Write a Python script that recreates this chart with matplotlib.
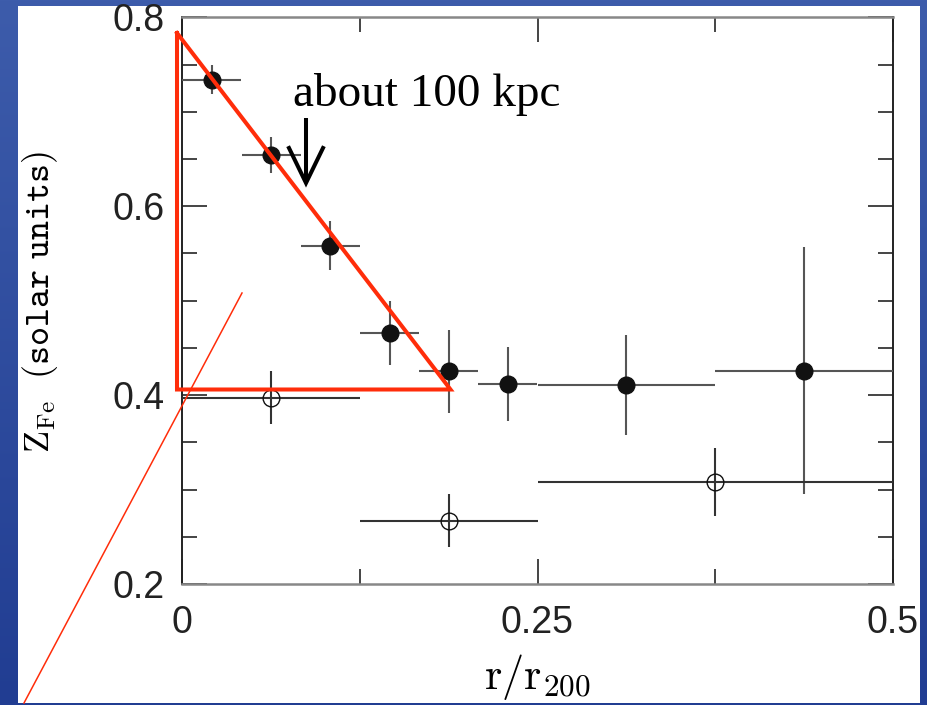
import numpy as np
import matplotlib
matplotlib.use("Agg")
import matplotlib.pyplot as plt
from matplotlib.colors import LinearSegmentedColormap
from matplotlib.patches import Rectangle
from matplotlib.ticker import FixedLocator, MultipleLocator

# ------------------------------------------------------------------ data ----
filled_x = [0.0208, 0.0625, 0.104, 0.146, 0.1875, 0.229, 0.3125, 0.4375]
filled_y = [0.734, 0.654, 0.558, 0.466, 0.425, 0.412, 0.411, 0.426]
filled_xerr = [0.0208, 0.0208, 0.0208, 0.0208, 0.0208, 0.0208, 0.0625, 0.0625]
filled_yerr = [0.015, 0.019, 0.026, 0.034, 0.044, 0.039, 0.053, 0.131]

open_x = [0.0625, 0.1875, 0.375]
open_y = [0.397, 0.267, 0.308]
open_xerr = [0.0625, 0.0625, 0.125]
open_yerr = [0.028, 0.028, 0.036]

x_ticks = [0, 0.25, 0.5]
x_ticklabels = ["0", "0.25", "0.5"]
x_minor = [0.125, 0.375]
y_ticks = [0.2, 0.4, 0.6, 0.8]
y_ticklabels = ["0.2", "0.4", "0.6", "0.8"]

note = "about 100 kpc"

# ---------------------------------------------------------------- style -----
W, H = 928, 705
INK = "#111111"
BAR = "#555555"
RED = "#ff2d0a"
plt.rcParams["mathtext.fontset"] = "cm"

fig = plt.figure(figsize=(W / 100, H / 100), dpi=100)

# slide background: blue gradient with a white card
bg = fig.add_axes([0, 0, 1, 1])
bg.axis("off")
cmap = LinearSegmentedColormap.from_list("slide", ["#3d5cab", "#213d92"])
bg.imshow(np.linspace(0, 1, 256)[:, None], cmap=cmap, aspect="auto", extent=[0, W, H, 0])
bg.add_patch(Rectangle((18, 6), 902, 697, facecolor="white", edgecolor="none"))
bg.set_xlim(0, W)
bg.set_ylim(H, 0)

# ----------------------------------------------------------------- plot -----
ax = fig.add_axes([182.3 / W, 1 - 584 / H, (892.7 - 182.3) / W, (584 - 17.3) / H])
ax.set_zorder(2)
ax.patch.set_alpha(0)
ax.set_xlim(0, 0.5)
ax.set_ylim(0.2, 0.8)

ax.errorbar(filled_x, filled_y, xerr=filled_xerr, yerr=filled_yerr, fmt="o", ms=12,
            color=INK, ecolor=BAR, elinewidth=1.5, capsize=0, zorder=3)
ax.errorbar(open_x, open_y, xerr=open_xerr, yerr=open_yerr, fmt="o", ms=12, mfc="none",
            mec=INK, mew=1.0, ecolor="#333333", elinewidth=1.5, capsize=0, zorder=3)

ax.xaxis.set_major_locator(FixedLocator(x_ticks))
ax.set_xticklabels(x_ticklabels)
ax.xaxis.set_minor_locator(FixedLocator(x_minor))
ax.yaxis.set_major_locator(FixedLocator(y_ticks))
ax.set_yticklabels(y_ticklabels)
ax.yaxis.set_minor_locator(MultipleLocator(0.05))

ax.tick_params(which="both", direction="in", top=True, right=True, color="#444444", width=1.4)
ax.tick_params(which="major", length=18, labelsize=27, labelcolor="#222222")
ax.tick_params(which="minor", length=11)
ax.tick_params(axis="x", pad=15)
ax.tick_params(axis="y", pad=13)
for lab in ax.get_xticklabels() + ax.get_yticklabels():
    lab.set_family("Liberation Sans")

for side in ("left", "right"):
    ax.spines[side].set_color("#222222")
    ax.spines[side].set_linewidth(1.4)
for side in ("top", "bottom"):
    ax.spines[side].set_color("#888888")
    ax.spines[side].set_linewidth(1.8)

ax.set_xlabel(r"$\mathrm{r/r_{200}}$", fontsize=32, va="baseline")
ax.xaxis.set_label_coords(0.5, (584 - 689) / 566.7)
ax.set_ylabel(r"$\mathrm{Z_{Fe}}\ \ \mathtt{(solar\ units)}$", fontsize=26, va="center")
ax.yaxis.set_label_coords((40 - 182.3) / 710.4, 0.498)

# ----------------------------------------------------------- annotation -----
ov = fig.add_axes([0, 0, 1, 1])
ov.set_zorder(4)
ov.axis("off")
ov.set_xlim(0, W)
ov.set_ylim(H, 0)

ov.plot([177, 177, 450.5, 177], [33, 389.5, 389.5, 33], color=RED, lw=2.9,
        solid_joinstyle="miter")
ov.plot([24, 242], [703, 293], color=RED, lw=1.1)

ov.text(293, 106, note, family="Liberation Serif", fontsize=34, color="black",
        ha="left", va="baseline")
ov.plot([306, 306], [118, 182], color="black", lw=2.9, solid_capstyle="butt")
ov.plot([289, 306, 323], [148, 183, 148], color="black", lw=2.9, solid_joinstyle="miter")

fig.savefig("out.png", dpi=100)
